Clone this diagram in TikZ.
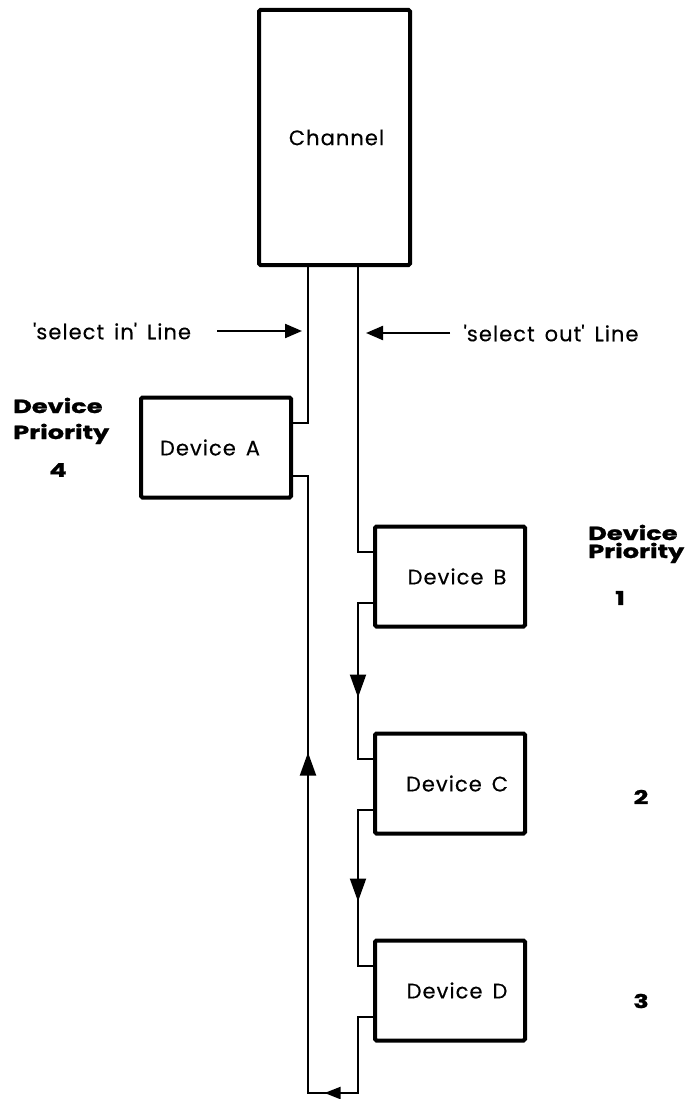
\documentclass[tikz,border=0pt]{standalone}
\usepackage{fontspec}
\setmainfont{Poppins}[LetterSpace=5, WordSpace=1.5, FakeBold=0.4]
\newfontfamily\priofont{Poppins}[FakeStretch=1.35, FakeBold=1.2]
\usetikzlibrary{arrows.meta,calc,decorations.markings}

\begin{document}
\begin{tikzpicture}[x=1pt, y=-1pt, node distance=207pt,
        tipat/.style={postaction={decorate, decoration={markings,
            mark=at position #1 with {\arrow{Triangle[length=23pt,width=16pt]}}}}},
        tipsm/.style={postaction={decorate, decoration={markings,
            mark=at position #1 with {\arrow{Triangle[length=16pt,width=12pt]}}}}},
        padl/.style={execute at begin node={\hspace*{#1}}},
        padr/.style={execute at end node={\hspace*{#1}}}]
        \tikzstyle{unit}=[draw, rectangle, line width=4pt, rounded corners=1.5pt, minimum width=150pt, minimum height=100pt, inner sep=0pt, font=\fontsize{21}{25}\selectfont];
        \tikzstyle{bus}=[line width=2pt];
        \tikzstyle{lbl}=[inner sep=0pt, font=\fontsize{21}{25}\selectfont];
        \tikzstyle{prio}=[inner sep=0pt, font=\priofont\bfseries\fontsize{19}{22}\selectfont];
        \tikzstyle{flow}=[-{Triangle[length=17pt,width=14pt]}, line width=2.2pt];

        \useasboundingbox (0,0) rectangle (691,1099);

        \node[unit, minimum width=151pt, minimum height=255pt, padl=4pt] (chan) at (334.5,137.5) {Channel};
        \node[unit, padr=12pt] (devA) at (216,447.5) {Device A};
        \node[unit, padl=14pt] (devB) at (450,576.5) {Device B};
        \node[unit, padl=14pt, below of=devB] (devC) {Device C};
        \node[unit, padl=14pt, below of=devC] (devD) {Device D};

        \coordinate (busin) at ([xshift=-26.5pt]chan.south);
        \coordinate (busout) at ([xshift=23.5pt]chan.south);
        \coordinate (botR) at (358,1093);
        \coordinate (botL) at (308,1093);

        \node[lbl] (inlbl) at (112,331) {\textquotesingle select in\textquotesingle\ Line};
        \node[lbl] (outlbl) at (551,333) {\textquotesingle select out\textquotesingle\ Line};

        \node[prio, anchor=base west] (prioA) at (13,413) {Device};
        \node[prio, anchor=base west] (prioAb) at (13,439) {Priority};
        \node[prio] (numA) at (58,470) {4};
        \node[prio, anchor=base west] (prioB) at (588,540) {Device};
        \node[prio, anchor=base west] (prioBb) at (588,558) {Priority};
        \node[prio] (numB) at (620,598) {1};
        \node[prio] (numC) at (641,797) {2};
        \node[prio] (numD) at (641,1001) {3};

        \draw[bus] (busin) |- ([yshift=25pt]devA.east);
        \draw[bus] (busout) |- ([yshift=25pt]devB.west);
        \draw[bus, tipat=110pt] ([yshift=-26pt]devB.west) -| (busout |- devC.north) |- ([yshift=25pt]devC.west);
        \draw[bus, tipat=107pt] ([yshift=-26pt]devC.west) -| (busout |- devD.north) |- ([yshift=25pt]devD.west);
        \draw[bus, tipsm=125pt, tipat=482pt] ([yshift=-26pt]devD.west) -| (botR) -- (botL) |- ([yshift=-28pt]devA.east);

        \draw[flow] ($(busin |- inlbl.east)+(-91,0)$) -- ($(busin |- inlbl.east)+(-6,0)$);
        \draw[flow] ($(busout |- outlbl.west)+(92,0)$) -- ($(busout |- outlbl.west)+(8,0)$);
    \end{tikzpicture}
\end{document}
